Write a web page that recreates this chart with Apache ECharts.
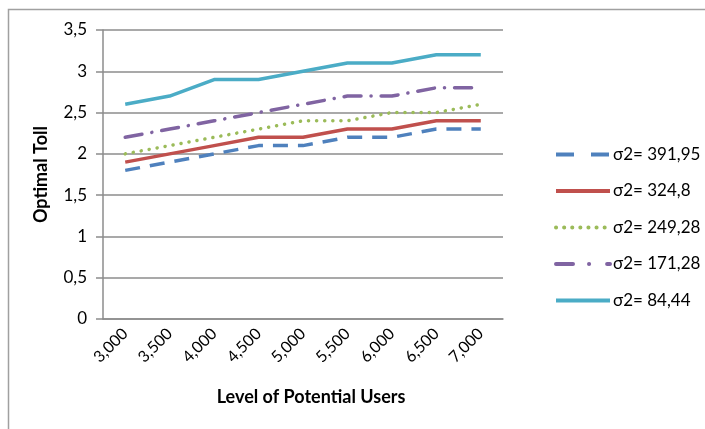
<!DOCTYPE html>
<html>
<head>
<meta charset="utf-8">
<script src="https://cdn.jsdelivr.net/npm/echarts@6/dist/echarts.min.js"></script>
<style>
  html, body { margin: 0; padding: 0; background: #fff; }
  #main { width: 705px; height: 429px; }
</style>
</head>
<body>
<div id="main"></div>
<script>
const users = ['3,000', '3,500', '4,000', '4,500', '5,000', '5,500', '6,000', '6,500', '7,000'];
const names = ['σ2= 391,95', 'σ2= 324,8', 'σ2= 249,28', 'σ2= 171,28', 'σ2= 84,44'];
const s391 = [1.8, 1.9, 2.0, 2.1, 2.1, 2.2, 2.2, 2.3, 2.3];
const s324 = [1.9, 2.0, 2.1, 2.2, 2.2, 2.3, 2.3, 2.4, 2.4];
const s249 = [2.0, 2.1, 2.2, 2.3, 2.4, 2.4, 2.5, 2.5, 2.6];
const s171 = [2.2, 2.3, 2.4, 2.5, 2.6, 2.7, 2.7, 2.8, 2.8];
const s84 = [2.6, 2.7, 2.9, 2.9, 3.0, 3.1, 3.1, 3.2, 3.2];

const font = 'Lato, "Open Sans", sans-serif';
const chart = echarts.init(document.getElementById('main'));

function line(name, data, color, type, cap) {
  return {
    name: name,
    type: 'line',
    data: data,
    symbol: 'none',
    color: color,
    lineStyle: { color: color, width: 3.5, type: type, cap: cap || 'butt' }
  };
}

var option = {
  backgroundColor: '#fff',
  animation: false,
  graphic: [{
    type: 'rect',
    shape: { x: 8.5, y: 9.5, width: 720, height: 440 },
    style: { fill: 'none', stroke: '#a0a0a0', lineWidth: 1.5 },
    silent: true
  }],
  grid: { left: 103, right: 202, top: 30, bottom: 110 },
  legend: {
    orient: 'vertical',
    left: 549,
    top: 141,
    itemWidth: 54,
    itemHeight: 16,
    itemGap: 19.5,
    itemStyle: { opacity: 0 },
    lineStyle: { width: 4 },
    textStyle: { fontFamily: font, fontSize: 17, color: '#000', padding: [0, 0, 0, -2] },
    data: [
      { name: names[0], lineStyle: { type: [18, 17] } },
      { name: names[1] },
      { name: names[2] },
      { name: names[3], lineStyle: { type: [17, 16, 0.1, 18] } },
      { name: names[4] }
    ]
  },
  xAxis: {
    type: 'category',
    data: users,
    name: 'Level of Potential Users',
    nameLocation: 'middle',
    nameGap: 69,
    nameTextStyle: { fontFamily: font, fontSize: 18, fontWeight: 'bold', color: '#000', padding: [0, 0, 0, 16] },
    axisLine: { lineStyle: { color: '#8c8c8c', width: 1.5 } },
    axisTick: { show: false },
    axisLabel: { rotate: 45, margin: 12, fontFamily: font, fontSize: 16, color: '#000' }
  },
  yAxis: {
    type: 'value',
    min: 0,
    max: 3.5,
    interval: 0.5,
    name: 'Optimal Toll',
    nameLocation: 'middle',
    nameGap: 53,
    nameTextStyle: { fontFamily: font, fontSize: 18, fontWeight: 'bold', color: '#000' },
    axisLine: { show: true, lineStyle: { color: '#8c8c8c', width: 1.5 } },
    axisTick: { show: true, length: 7, lineStyle: { color: '#8c8c8c', width: 1.5 } },
    splitLine: { lineStyle: { color: '#8c8c8c', width: 1.5 } },
    axisLabel: {
      margin: 16, fontFamily: font, fontSize: 17, color: '#000',
      formatter: function (v) { return String(v).replace('.', ','); }
    }
  },
  series: [
    line(names[0], s391, '#4f81bd', [15, 10]),
    line(names[1], s324, '#c0504d', 'solid'),
    line(names[2], s249, '#9bbb59', [0.1, 8], 'round'),
    line(names[3], s171, '#8064a2', [17, 10, 0.1, 10], 'round'),
    line(names[4], s84, '#4bacc6', 'solid')
  ]
};

chart.setOption(option);
</script>
</body>
</html>
